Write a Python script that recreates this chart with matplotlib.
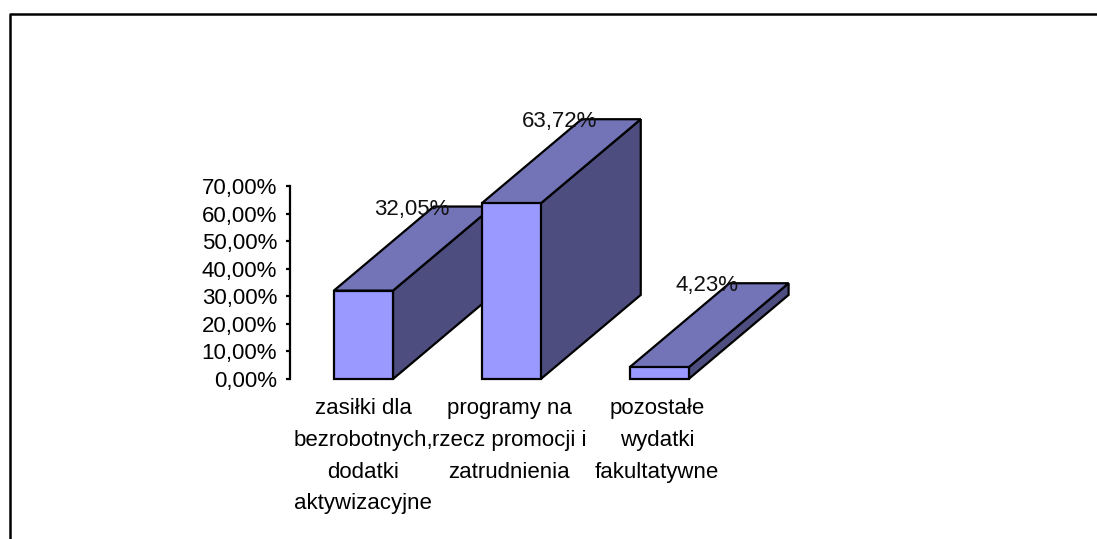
import numpy as np
from matplotlib import pyplot as plt
from matplotlib.lines import Line2D
from matplotlib.patches import Polygon
from matplotlib.transforms import ScaledTranslation

categories = ['zasiłki dla\nbezrobotnych,\ndodatki\naktywizacyjne',
              'programy na\nrzecz promocji i\nzatrudnienia',
              'pozostałe\nwydatki\nfakultatywne']
values = [32.05, 63.72, 4.23]
value_labels = ['32,05%', '63,72%', '4,23%']
y_ticks = [0, 10, 20, 30, 40, 50, 60, 70]
y_tick_labels = ['0,00%', '10,00%', '20,00%', '30,00%', '40,00%', '50,00%', '60,00%', '70,00%']

W, H = 1097, 539
plt.rcParams['font.family'] = ['Liberation Sans', 'DejaVu Sans']
plt.rcParams['font.size'] = 16

fig = plt.figure(figsize=(W / 100, H / 100), dpi=100)
ax = fig.add_axes([289.5 / W, 1 - 379 / H, 443.5 / W, 193 / H])

bar_w = 0.4
depth_x = 0.676
depth_y = 30.5
x = np.arange(len(values))

for i, v in enumerate(values):
    left = x[i] - bar_w / 2
    right = x[i] + bar_w / 2
    # side and top first, the front goes over them
    side = [(right, 0), (right + depth_x, depth_y), (right + depth_x, v + depth_y), (right, v)]
    top = [(left, v), (left + depth_x, v + depth_y), (right + depth_x, v + depth_y), (right, v)]
    ax.add_patch(Polygon(side, fc='#4d4d80', ec='black', lw=1.6, clip_on=False, zorder=3 + i))
    ax.add_patch(Polygon(top, fc='#7373b8', ec='black', lw=1.6, clip_on=False, zorder=3 + i))
    ax.bar(x[i], v, bar_w, color='#9999ff', edgecolor='black', lw=1.6, clip_on=False, zorder=3 + i)

for i, v in enumerate(values):
    ax.text(x[i] + 0.325, v + depth_y, value_labels[i], ha='center', va='center_baseline',
            color='#111111', zorder=10)

ax.set_xlim(-0.5, 2.5)
ax.set_ylim(0, 70)
ax.set_yticks(y_ticks)
ax.set_yticklabels(y_tick_labels)
ax.set_xticks(x)
ax.set_xticklabels(categories, linespacing=1.66)
ax.tick_params(axis='x', length=0, pad=14)
ax.tick_params(axis='y', length=3, width=1.6, pad=6)
for s in ['top', 'right', 'bottom']:
    ax.spines[s].set_visible(False)
ax.spines['left'].set_linewidth(1.6)

# second and third labels sit a little left of the bar centres
shift = ScaledTranslation(-2 / 100, 0, fig.dpi_scale_trans)
for lab in ax.get_xticklabels()[1:]:
    lab.set_transform(lab.get_transform() + shift)

# frame of the chart, runs off the picture at the bottom and right
fig.add_artist(Line2D([9.5 / W, 9.5 / W, 1], [0, 1 - 13.5 / H, 1 - 13.5 / H], color='black', lw=1.8))

fig.savefig('out.png', dpi=100)
